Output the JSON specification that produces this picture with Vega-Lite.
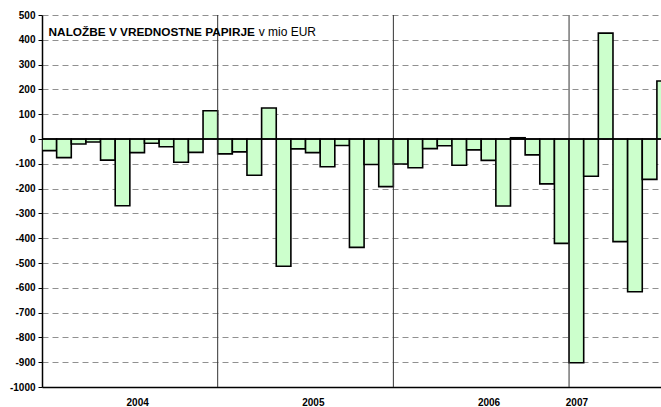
{
  "$schema": "https://vega.github.io/schema/vega-lite/v6.json",
  "autosize": "none",
  "width": 619,
  "height": 372,
  "padding": {"left": 42, "top": 15, "right": 0, "bottom": 20},
  "background": "white",
  "config": {
    "view": {"stroke": null},
    "font": "Liberation Sans",
    "axisY": {
      "title": null,
      "values": [-1000, -900, -800, -700, -600, -500, -400, -300, -200, -100, 0, 100, 200, 300, 400, 500],
      "tickCount": 20,
      "labelExpr": "datum.value < 0 ? '-' + abs(datum.value) : '' + datum.value",
      "labelOverlap": false,
      "tickSize": 4,
      "tickColor": "black",
      "domainColor": "black",
      "domainWidth": 1.5,
      "grid": true,
      "gridColor": "#909090",
      "gridDash": [6, 4],
      "gridWidth": 1,
      "labelFont": "Liberation Sans",
      "labelFontSize": 10,
      "labelFontWeight": "bold",
      "labelColor": "black",
      "labelPadding": 3
    }
  },
  "datasets": {
    "monthly": [
      {"month": "2004-01", "i": 0, "value": -47},
      {"month": "2004-02", "i": 1, "value": -75},
      {"month": "2004-03", "i": 2, "value": -20},
      {"month": "2004-04", "i": 3, "value": -12},
      {"month": "2004-05", "i": 4, "value": -85},
      {"month": "2004-06", "i": 5, "value": -269},
      {"month": "2004-07", "i": 6, "value": -55},
      {"month": "2004-08", "i": 7, "value": -17},
      {"month": "2004-09", "i": 8, "value": -31},
      {"month": "2004-10", "i": 9, "value": -94},
      {"month": "2004-11", "i": 10, "value": -54},
      {"month": "2004-12", "i": 11, "value": 114},
      {"month": "2005-01", "i": 12, "value": -60},
      {"month": "2005-02", "i": 13, "value": -52},
      {"month": "2005-03", "i": 14, "value": -146},
      {"month": "2005-04", "i": 15, "value": 125},
      {"month": "2005-05", "i": 16, "value": -513},
      {"month": "2005-06", "i": 17, "value": -40},
      {"month": "2005-07", "i": 18, "value": -55},
      {"month": "2005-08", "i": 19, "value": -112},
      {"month": "2005-09", "i": 20, "value": -26},
      {"month": "2005-10", "i": 21, "value": -437},
      {"month": "2005-11", "i": 22, "value": -103},
      {"month": "2005-12", "i": 23, "value": -192},
      {"month": "2006-01", "i": 24, "value": -101},
      {"month": "2006-02", "i": 25, "value": -116},
      {"month": "2006-03", "i": 26, "value": -39},
      {"month": "2006-04", "i": 27, "value": -27},
      {"month": "2006-05", "i": 28, "value": -106},
      {"month": "2006-06", "i": 29, "value": -44},
      {"month": "2006-07", "i": 30, "value": -86},
      {"month": "2006-08", "i": 31, "value": -270},
      {"month": "2006-09", "i": 32, "value": 5},
      {"month": "2006-10", "i": 33, "value": -64},
      {"month": "2006-11", "i": 34, "value": -181},
      {"month": "2006-12", "i": 35, "value": -421},
      {"month": "2007-01", "i": 36, "value": -902},
      {"month": "2007-02", "i": 37, "value": -150},
      {"month": "2007-03", "i": 38, "value": 427},
      {"month": "2007-04", "i": 39, "value": -414},
      {"month": "2007-05", "i": 40, "value": -616},
      {"month": "2007-06", "i": 41, "value": -163},
      {"month": "2007-07", "i": 42, "value": 234}
    ],
    "years": [
      {"year_start": 12},
      {"year_start": 24},
      {"year_start": 36}
    ]
  },
  "layer": [
    {
      "data": {"name": "monthly"},
      "transform": [{"calculate": "datum.i + 1", "as": "i_end"}],
      "mark": {"type": "bar", "fill": "#CCFFCC", "stroke": "black", "strokeWidth": 1.6, "clip": true},
      "encoding": {
        "x": {
          "field": "i", "type": "quantitative",
          "scale": {"domain": [0, 42.28], "nice": false, "zero": false},
          "axis": {
            "title": null,
            "values": [6.5, 18.5, 30.5, 36.5],
            "tickCount": 10,
            "labelExpr": "floor(datum.value / 12) + 2004",
            "labelOverlap": false,
            "ticks": false,
            "grid": false,
            "domainColor": "black",
            "domainWidth": 1.5,
            "labelFont": "Liberation Sans",
            "labelFontSize": 10,
            "labelFontWeight": "bold",
            "labelColor": "black",
            "labelPadding": 10
          }
        },
        "x2": {"field": "i_end"},
        "y": {
          "field": "value", "type": "quantitative",
          "scale": {"domain": [-1000, 500], "nice": false},
          "axis": {"title": null}
        },
        "y2": {"datum": 0}
      }
    },
    {
      "data": {"name": "years"},
      "mark": {"type": "rule", "color": "#333333", "strokeWidth": 1},
      "encoding": {
        "x": {"field": "year_start", "type": "quantitative"}
      }
    },
    {
      "data": {"values": [{"zero": 0}]},
      "mark": {"type": "rule", "color": "black", "strokeWidth": 1.5},
      "encoding": {
        "y": {"field": "zero", "type": "quantitative"}
      }
    },
    {
      "data": {"values": [{"label": "NALOŽBE V VREDNOSTNE PAPIRJE"}]},
      "mark": {"type": "text", "align": "left", "baseline": "middle", "font": "Liberation Sans", "fontSize": 11.8, "fontWeight": "bold", "color": "black"},
      "encoding": {
        "x": {"datum": 0.45},
        "y": {"datum": 432},
        "text": {"field": "label"}
      }
    },
    {
      "data": {"values": [{"label": "v mio EUR"}]},
      "mark": {"type": "text", "align": "left", "baseline": "middle", "font": "Liberation Sans", "fontSize": 12, "color": "black"},
      "encoding": {
        "x": {"datum": 14.8},
        "y": {"datum": 432},
        "text": {"field": "label"}
      }
    }
  ]
}
